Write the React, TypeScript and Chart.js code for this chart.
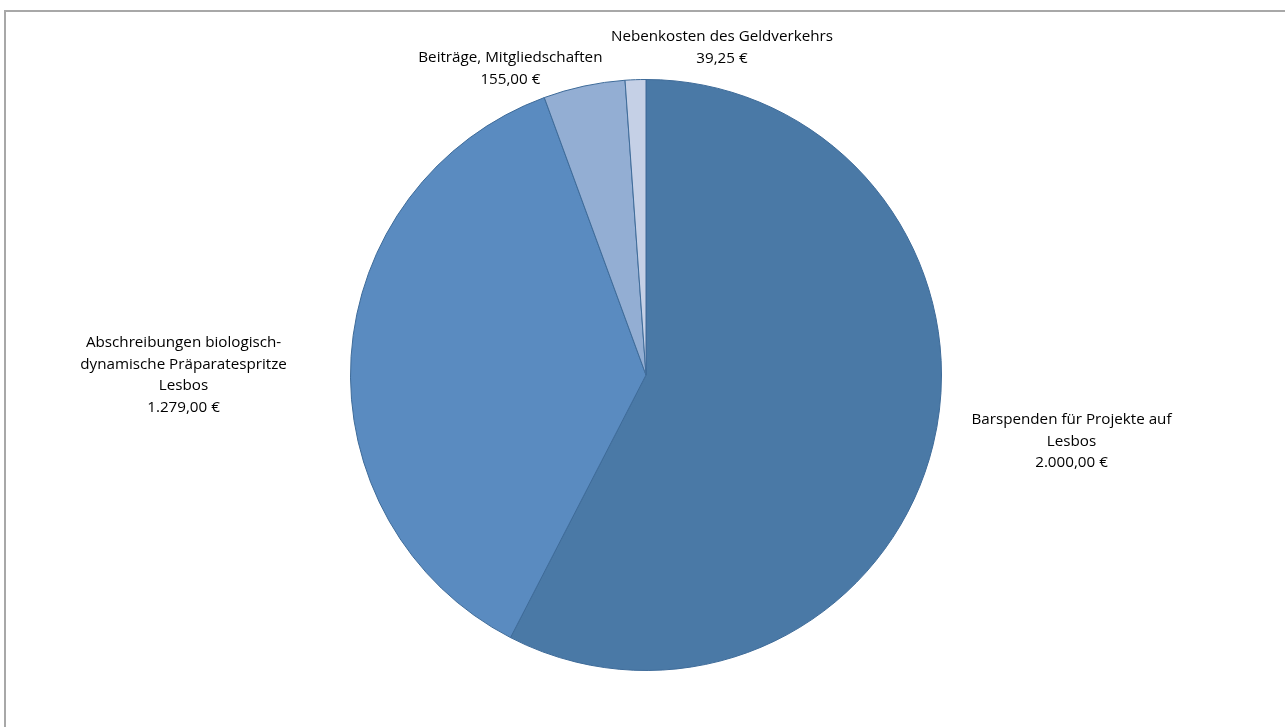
import React, { useEffect, useRef } from "react";
import { Chart, registerables } from "chart.js";

Chart.register(...registerables);

const categories: string[][] = [
  ["Barspenden für Projekte auf", "Lesbos"],
  ["Abschreibungen biologisch-", "dynamische Präparatespritze", "Lesbos"],
  ["Beiträge, Mitgliedschaften"],
  ["Nebenkosten des Geldverkehrs"],
];
const values: number[] = [2000, 1279, 155, 39.25];
const valueLabels: string[] = ["2.000,00 €", "1.279,00 €", "155,00 €", "39,25 €"];
const colors: string[] = ["#4A79A6", "#5A8BC0", "#93AED3", "#C5D0E6"];

// label centre, relative to pie centre, in units of the radius
const labelPlace = [
  { x: 1.44, y: 0.224 },
  { x: -1.565, y: 0.0 },
  { x: -0.459, y: -1.037 },
  { x: 0.257, y: -1.108 },
];

const LINE_H = 21.5;
const FONT = '15.2px "Open Sans", sans-serif';

const labelPlugin = {
  id: "outsideLabels",
  afterDatasetsDraw(chart: any) {
    const meta = chart.getDatasetMeta(0);
    const ctx = chart.ctx;
    ctx.save();
    ctx.font = FONT;
    ctx.fillStyle = "#000000";
    ctx.textAlign = "center";
    ctx.textBaseline = "middle";
    meta.data.forEach((arc: any, i: number) => {
      const { x, y, outerRadius } = arc.getProps(["x", "y", "outerRadius"], true);
      const lines = [...categories[i], valueLabels[i]];
      const cx = x + labelPlace[i].x * outerRadius;
      const cy = y + labelPlace[i].y * outerRadius;
      const top = cy - ((lines.length - 1) * LINE_H) / 2;
      lines.forEach((t, k) => ctx.fillText(t, cx, top + k * LINE_H));
    });
    ctx.restore();
  },
};

export default function App() {
  const ref = useRef<HTMLCanvasElement | null>(null);
  useEffect(() => {
    if (!ref.current) return;
    const chart = new Chart(ref.current, {
      type: "pie",
      data: {
        labels: categories.map((c) => c.join(" ")),
        datasets: [
          {
            data: values,
            backgroundColor: colors,
            borderColor: "#3E6B99",
            borderWidth: 1,
          },
        ],
      },
      options: {
        animation: false,
        responsive: false,
        maintainAspectRatio: false,
        layout: { padding: { left: 7, right: 0, top: 79, bottom: 56 } },
        plugins: { legend: { display: false }, tooltip: { enabled: false } },
      },
      plugins: [labelPlugin],
    });
    return () => chart.destroy();
  }, []);
  return (
    <div style={{ position: "fixed", left: 0, top: 0, width: 1285, height: 727, background: "#fff", overflow: "hidden" }}>
      <div
        style={{
          position: "absolute",
          left: 4,
          top: 10,
          width: 1320,
          height: 800,
          border: "2px solid #A8A8A8",
          boxSizing: "border-box",
        }}
      />
      <canvas ref={ref} width={1285} height={727} style={{ position: "absolute", left: 0, top: 0 }} />
    </div>
  );
}
